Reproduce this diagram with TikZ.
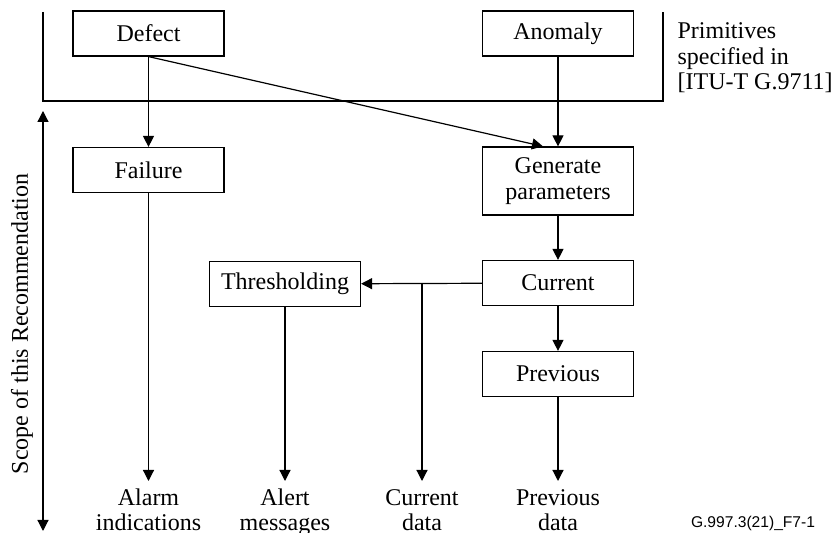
\documentclass[tikz,border=0pt]{standalone}
\usepackage{fontspec}
\setmainfont{Liberation Serif}
\newfontfamily\tagfont{Liberation Sans}
\usepackage{tikz}
\usetikzlibrary{positioning,arrows.meta}

\begin{document}
\begin{tikzpicture}[x=0.5pt,y=-0.5pt,line width=0.6pt,
	font=\fontsize{12}{12.75}\selectfont,
	box/.style={draw,minimum width=75.5pt,minimum height=22.5pt,align=center,inner sep=1pt},
	outlabel/.style={anchor=north,align=center,inner xsep=1pt,inner ysep=3.5pt},
	arr/.style={-{Triangle[length=5.5pt,width=5.5pt]}}]
\useasboundingbox (0,0) rectangle (835,533);
	\node[box] (defect) at (148.5,33.5) {Defect};
	\node[box] (anomaly) at (558,33.5) {Anomaly};
	\node[box] (failure) at (148.5,170) {Failure};
	\node[box,minimum height=34pt] (generate) at (558,181) {Generate\\parameters};
	\node[box] (current) at (558,283) {Current};
	\node[box] (previous) at (558,374) {Previous};
	\node[box] (thresh) at (285,284) {Thresholding};
	\coordinate (split) at (422,283);

	\node[outlabel] (alarm) at (148.5,481) {\vphantom{l}Alarm\\indications};
	\node[outlabel] (alert) at (285,481) {\vphantom{l}Alert\\messages};
	\node[outlabel] (curdata) at (422,481) {\vphantom{l}Current\\data};
	\node[outlabel] (prevdata) at (558,481) {\vphantom{l}Previous\\data};

	\node[anchor=west,align=left,inner sep=0pt] (prim) at (677,58) {Primitives\\specified in\\{[ITU-T G.9711]}};
	\node[rotate=90] (scope) at (22,324) {Scope of this Recommendation};
	\node (tag) at (753,523) {\tagfont\fontsize{7.8}{9}\selectfont G.997.3(21)\_F7-1};

	% bracket round the primitives
	\draw (43,12) |- (663,101) -- (663,12);
	\coordinate (scopetop) at (43,111);
	\coordinate (scopebot) at (43,531);
	\draw[{Triangle[length=5.5pt,width=5.5pt]}-{Triangle[length=5.5pt,width=5.5pt]}] (scopetop) -- (scopebot);

	\draw[arr] (defect) -- (failure);
	\draw[arr] (defect.south) -- ([xshift=-7.5pt]generate.north);
	\draw[arr] (anomaly) -- (generate);
	\draw[arr] (generate) -- (current);
	\draw[arr] (current) -- (previous);
	\draw[arr] (current) -- (thresh);
	\draw[arr] (split) -- (curdata);
	\draw[arr] (failure) -- (alarm);
	\draw[arr] (thresh) -- (alert);
	\draw[arr] (previous) -- (prevdata);
\end{tikzpicture}
\end{document}
